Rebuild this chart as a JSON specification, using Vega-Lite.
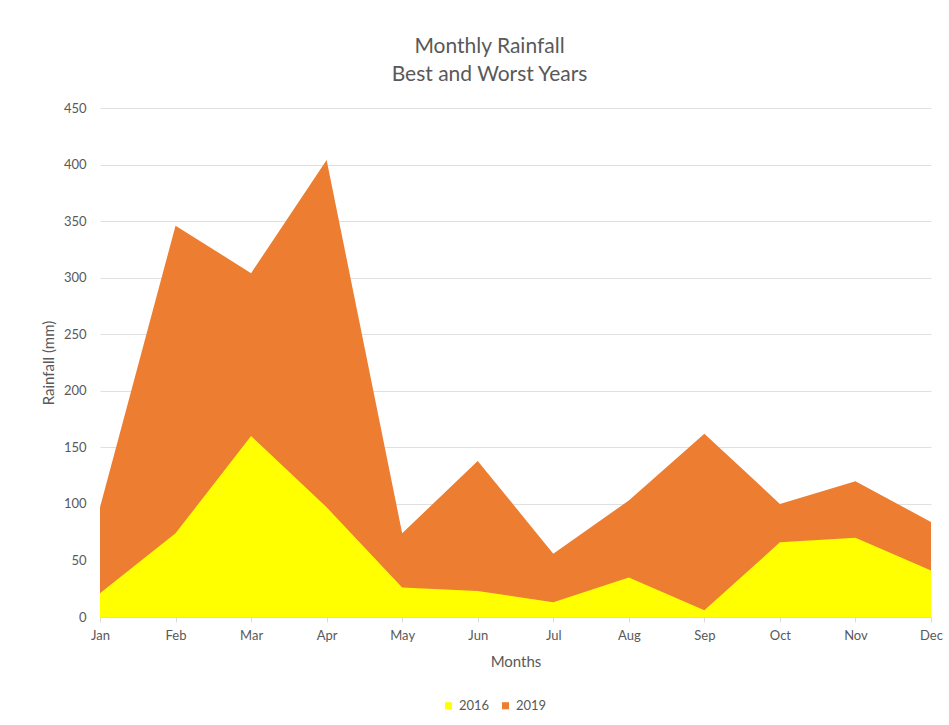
{
  "$schema": "https://vega.github.io/schema/vega-lite/v6.json",
  "autosize": {"type": "none"},
  "width": 831,
  "height": 509,
  "padding": {"left": 100, "top": 108, "right": 18, "bottom": 108},
  "background": "white",
  "title": {
    "text": ["Monthly Rainfall", "Best and Worst Years"],
    "font": "Lato",
    "fontSize": 21,
    "fontWeight": "normal",
    "color": "#595959",
    "lineHeight": 28,
    "offset": 17,
    "dx": -26
  },
  "data": {
    "values": [
      {"month": "Jan", "year": "2016", "rainfall": 21},
      {"month": "Feb", "year": "2016", "rainfall": 74},
      {"month": "Mar", "year": "2016", "rainfall": 160},
      {"month": "Apr", "year": "2016", "rainfall": 97},
      {"month": "May", "year": "2016", "rainfall": 26},
      {"month": "Jun", "year": "2016", "rainfall": 23},
      {"month": "Jul", "year": "2016", "rainfall": 13},
      {"month": "Aug", "year": "2016", "rainfall": 35},
      {"month": "Sep", "year": "2016", "rainfall": 6},
      {"month": "Oct", "year": "2016", "rainfall": 66},
      {"month": "Nov", "year": "2016", "rainfall": 70},
      {"month": "Dec", "year": "2016", "rainfall": 41},
      {"month": "Jan", "year": "2019", "rainfall": 97},
      {"month": "Feb", "year": "2019", "rainfall": 346},
      {"month": "Mar", "year": "2019", "rainfall": 304},
      {"month": "Apr", "year": "2019", "rainfall": 404},
      {"month": "May", "year": "2019", "rainfall": 74},
      {"month": "Jun", "year": "2019", "rainfall": 138},
      {"month": "Jul", "year": "2019", "rainfall": 56},
      {"month": "Aug", "year": "2019", "rainfall": 103},
      {"month": "Sep", "year": "2019", "rainfall": 162},
      {"month": "Oct", "year": "2019", "rainfall": 100},
      {"month": "Nov", "year": "2019", "rainfall": 120},
      {"month": "Dec", "year": "2019", "rainfall": 84}
    ]
  },
  "encoding": {
    "x": {
      "field": "month",
      "type": "ordinal",
      "sort": ["Jan","Feb","Mar","Apr","May","Jun","Jul","Aug","Sep","Oct","Nov","Dec"],
      "scale": {"type": "point", "padding": 0},
      "axis": {
        "title": "Months",
        "labelAngle": 0,
        "domainColor": "#d9d9d9",
        "tickColor": "#d9d9d9",
        "tickSize": 5,
        "labelPadding": 7,
        "titlePadding": 12,
        "grid": false
      }
    },
    "y": {
      "field": "rainfall",
      "type": "quantitative",
      "stack": null,
      "scale": {"domain": [0, 450], "nice": false},
      "axis": {
        "title": "Rainfall (mm)",
        "values": [0, 50, 100, 150, 200, 250, 300, 350, 400, 450],
        "domain": false,
        "ticks": false,
        "labelPadding": 14,
        "titlePadding": 7,
        "gridColor": "#e0e0e0",
        "gridWidth": 1
      }
    },
    "color": {
      "field": "year",
      "type": "nominal",
      "scale": {"domain": ["2016", "2019"], "range": ["#FFFF00", "#ED7D31"]},
      "legend": {
        "title": null,
        "orient": "none",
        "direction": "horizontal",
        "legendX": 342,
        "legendY": 591,
        "symbolType": "square",
        "symbolSize": 50,
        "symbolStrokeWidth": 0,
        "labelFontSize": 13,
        "labelColor": "#595959",
        "labelFont": "Lato",
        "columnPadding": 9,
        "labelOffset": 4
      }
    }
  },
  "layer": [
    {
      "transform": [{"filter": "datum.year == '2019'"}],
      "mark": {"type": "area", "opacity": 1}
    },
    {
      "transform": [{"filter": "datum.year == '2016'"}],
      "mark": {"type": "area", "opacity": 1}
    }
  ],
  "config": {
    "view": {"stroke": null},
    "axis": {
      "labelFont": "Lato",
      "titleFont": "Lato",
      "labelFontSize": 13,
      "titleFontSize": 15,
      "titleFontWeight": "normal",
      "labelColor": "#595959",
      "titleColor": "#595959"
    }
  }
}
